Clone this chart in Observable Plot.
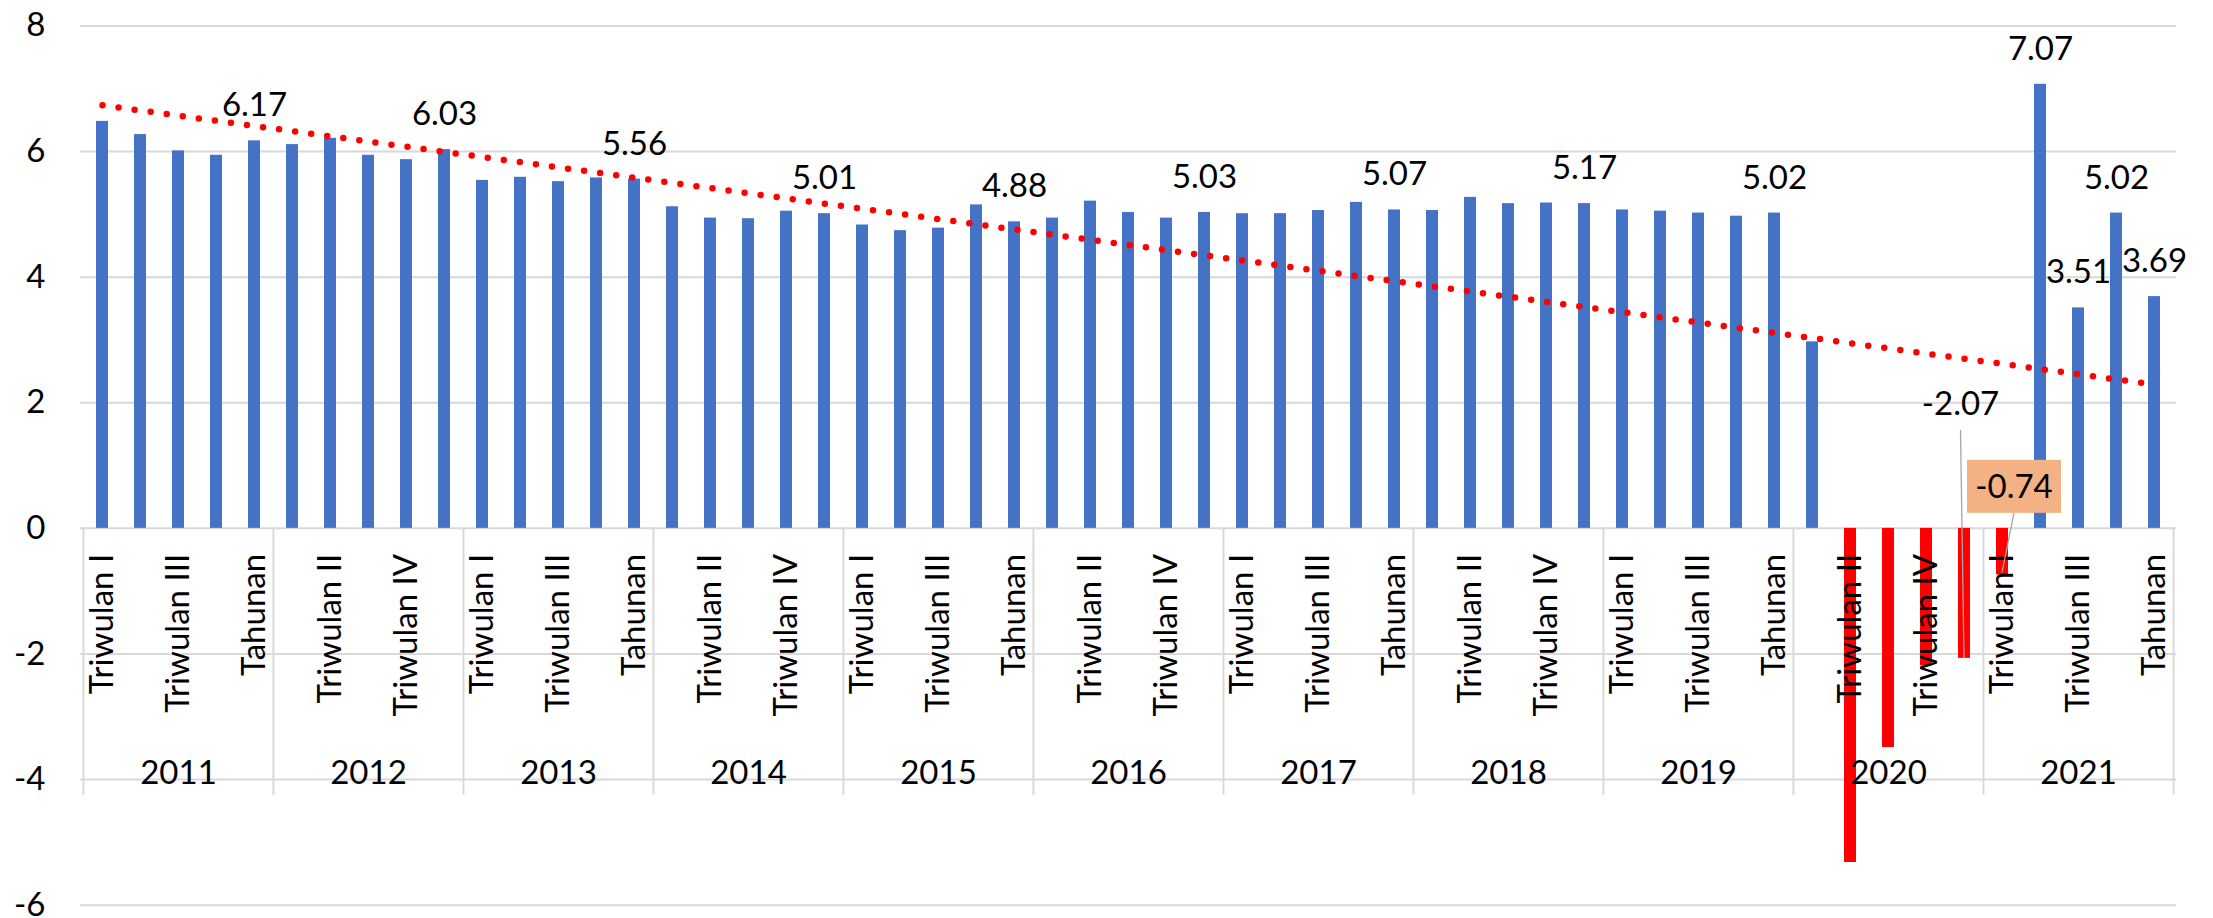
<!DOCTYPE html>
<html>
<head>
<meta charset="utf-8">
<script src="https://cdn.jsdelivr.net/npm/d3@7"></script>
<script src="https://cdn.jsdelivr.net/npm/@observablehq/plot@0.6"></script>
<style>
  html, body { margin: 0; padding: 0; background: #ffffff; }
  #chart svg { display: block; }
</style>
</head>
<body>
<div id="chart"></div>
<script>
// ---------- data ----------
const years = ["2011", "2012", "2013", "2014", "2015", "2016", "2017", "2018", "2019", "2020", "2021"];
const periods = ["Triwulan I", "Triwulan II", "Triwulan III", "Triwulan IV", "Tahunan"];

const growth2011 = [6.48, 6.27, 6.01, 5.94, 6.17];
const growth2012 = [6.11, 6.21, 5.94, 5.87, 6.03];
const growth2013 = [5.54, 5.59, 5.52, 5.58, 5.56];
const growth2014 = [5.12, 4.94, 4.93, 5.05, 5.01];
const growth2015 = [4.83, 4.74, 4.78, 5.15, 4.88];
const growth2016 = [4.94, 5.21, 5.03, 4.94, 5.03];
const growth2017 = [5.01, 5.01, 5.06, 5.19, 5.07];
const growth2018 = [5.06, 5.27, 5.17, 5.18, 5.17];
const growth2019 = [5.07, 5.05, 5.02, 4.97, 5.02];
const growth2020 = [2.97, -5.32, -3.49, -2.19, -2.07];
const growth2021 = [-0.74, 7.07, 3.51, 5.02, 3.69];
const growthByYear = [growth2011, growth2012, growth2013, growth2014, growth2015, growth2016,
                      growth2017, growth2018, growth2019, growth2020, growth2021];

const yTicks = [-6, -4, -2, 0, 2, 4, 6, 8];

// bars carrying a plain value label
const labelled = [
  ["2011", "Tahunan"], ["2012", "Tahunan"], ["2013", "Tahunan"], ["2014", "Tahunan"],
  ["2015", "Tahunan"], ["2016", "Tahunan"], ["2017", "Tahunan"], ["2018", "Tahunan"],
  ["2019", "Tahunan"], ["2021", "Triwulan II"], ["2021", "Triwulan III"],
  ["2021", "Triwulan IV"], ["2021", "Tahunan"]
];
// bars carrying a callout label
const calloutPlain = ["2020", "Tahunan"];
const calloutBoxed = ["2021", "Triwulan I"];

// ---------- build table ----------
const keyOf = (yr, p) => yr + "|" + p;
const rows = years.flatMap((yr, j) => periods.map((p, k) => ({
  key: keyOf(yr, p), year: yr, period: p, i: j * periods.length + k, value: growthByYear[j][k]
})));
const byKey = new Map(rows.map(d => [d.key, d]));

// linear trend (least squares over the sequence)
const n = rows.length;
const mx = d3.mean(rows, d => d.i), my = d3.mean(rows, d => d.value);
const slope = d3.sum(rows, d => (d.i - mx) * (d.value - my)) / d3.sum(rows, d => (d.i - mx) ** 2);
const trend = rows.map(d => ({key: d.key, fit: my + slope * (d.i - mx)}));

// ---------- layout ----------
const W = 2213, H = 918;
const mL = 80, mR = 37, mT = 25.4, mB = 13.3;
const step = (W - mL - mR) / n;
const FONT = "Lato, 'DejaVu Sans', sans-serif";
const FS = 33;
const BLUE = "#4472C4", RED = "#FF0000", GRID = "#D9D9D9";

const fmt = v => v.toFixed(2);

function callouts(index, scales) {
  const x = scales.x, y = scales.y;
  const bw = typeof x.bandwidth === "function" ? x.bandwidth() : 0;
  const cx = k => x(k) + bw / 2;
  const g = d3.create("svg:g").attr("font-family", FONT).attr("font-size", FS);

  // plain callout (-2.07)
  const a = byKey.get(keyOf(...calloutPlain));
  const ax = cx(a.key) - 3.5, ay = y(a.value);
  g.append("line").attr("x1", ax).attr("y1", ay - 228).attr("x2", ax + 3.5).attr("y2", ay)
    .attr("stroke", "#A6A6A6").attr("stroke-width", 1.3);
  g.append("text").attr("x", ax).attr("y", ay - 254).attr("dy", "0.35em")
    .attr("text-anchor", "middle").attr("fill", "#000").text(fmt(a.value));

  // boxed callout (-0.74)
  const b = byKey.get(keyOf(...calloutBoxed));
  const bx = cx(b.key), by = y(b.value);
  const boxW = 94, boxH = 53;
  const tcx = bx + 12, tcy = by - 88;
  g.append("line").attr("x1", tcx).attr("y1", tcy + boxH / 2).attr("x2", bx).attr("y2", by - 2)
    .attr("stroke", "#A6A6A6").attr("stroke-width", 1.3);
  g.append("rect").attr("x", tcx - boxW / 2).attr("y", tcy - boxH / 2)
    .attr("width", boxW).attr("height", boxH).attr("fill", "#F4B183");
  g.append("text").attr("x", tcx).attr("y", tcy).attr("dy", "0.35em")
    .attr("text-anchor", "middle").attr("fill", "#000").text(fmt(b.value));
  return g.node();
}

const chart = Plot.plot({
  width: W,
  height: H,
  marginLeft: mL,
  marginRight: mR,
  marginTop: mT,
  marginBottom: mB,
  style: {fontFamily: FONT, fontSize: FS + "px", color: "#000", background: "#fff"},
  x: {domain: rows.map(d => d.key), paddingInner: 0.68, paddingOuter: 0.34, axis: null},
  y: {domain: [-6, 8], axis: null},
  color: {type: "identity"},
  marks: [
    // horizontal gridlines (incl. the zero axis)
    Plot.ruleY(yTicks, {y: d => d, stroke: GRID, strokeWidth: 2}),
    // year-group separators on the category axis
    Plot.ruleX(years.map(yr => keyOf(yr, periods[0])), {x: d => d, dx: -step / 2, y1: 0, y2: -4.25, stroke: GRID, strokeWidth: 2}),
    Plot.ruleX([keyOf(years[years.length - 1], periods[periods.length - 1])], {x: d => d, dx: step / 2, y1: 0, y2: -4.25, stroke: GRID, strokeWidth: 2}),
    // bars
    Plot.barY(rows, {x: "key", y: "value", fill: d => d.value < 0 ? RED : BLUE}),
    // dotted linear trend
    Plot.line(trend, {x: "key", y: "fit", stroke: RED, strokeWidth: 6.5, strokeDasharray: "0 16.2", strokeLinecap: "round"}),
    // y tick labels
    Plot.text(yTicks, {y: d => d, text: d => String(d), frameAnchor: "left", dx: -35, textAnchor: "end", fontSize: FS, fill: "#000"}),
    // category (period) labels: every second one
    Plot.text(rows.filter(d => d.i % 2 === 0), {x: "key", y: 0, text: "period", rotate: -90, textAnchor: "end", dy: 25.5, fontSize: FS, fill: "#000"}),
    // year labels
    Plot.text(years, {x: d => keyOf(d, periods[2]), y: 0, text: d => d, dy: 245, fontSize: FS, fill: "#000"}),
    // value labels
    Plot.text(labelled.map(([yr, p]) => byKey.get(keyOf(yr, p))), {x: "key", y: "value", text: d => fmt(d.value), dy: -35, fontSize: FS, fill: "#000"}),
    // callouts
    callouts
  ]
});

document.getElementById("chart").appendChild(chart);
</script>
</body>
</html>
